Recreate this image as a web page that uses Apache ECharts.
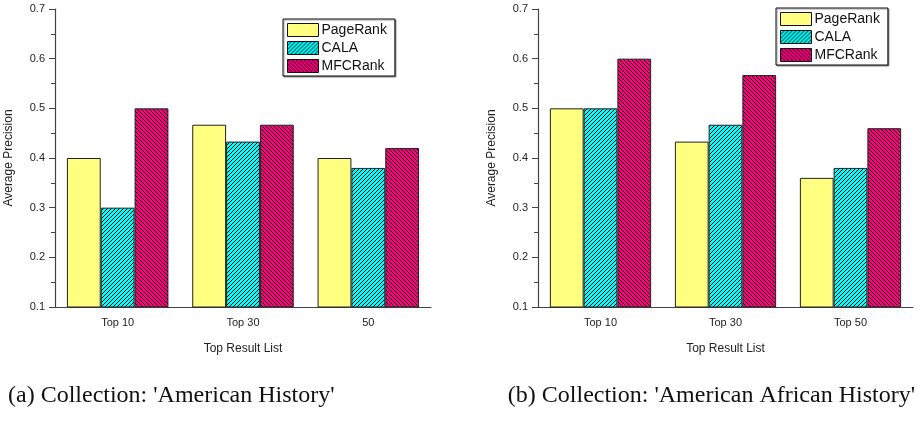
<!DOCTYPE html>
<html lang="en">
<head>
  <meta charset="UTF-8">
  <title>Average Precision</title>
  <style>
    body{
      margin: 0;
      width: 923px;
      height: 422px;
      overflow: hidden;
      background-color: #fff;
    }
    #chart{
      width: 923px;
      height: 422px;
    }
  </style>
</head>
<body>
  <div id="chart"></div>
  <script src="https://cdn.jsdelivr.net/npm/echarts@6/dist/echarts.min.js"></script>
  <script>
// 数据
const seriesNames = ['PageRank', 'CALA', 'MFCRank'];
const catsA = ['Top 10', 'Top 30', '50'];
const catsB = ['Top 10', 'Top 30', 'Top 50'];
const pageRankA = [0.4, 0.467, 0.4];
const calaA = [0.3, 0.433, 0.38];
const mfcRankA = [0.5, 0.467, 0.42];
const pageRankB = [0.5, 0.433, 0.36];
const calaB = [0.5, 0.467, 0.38];
const mfcRankB = [0.6, 0.567, 0.46];
const yTicks = [0.1, 0.2, 0.3, 0.4, 0.5, 0.6, 0.7];

// 斜线填充（像素阶梯）
function hatch(bg, dir) {
  const s = 4;
  const c = document.createElement('canvas');
  c.width = s; c.height = s;
  const ctx = c.getContext('2d');
  ctx.fillStyle = bg;
  ctx.fillRect(0, 0, s, s);
  if (dir) {
    ctx.fillStyle = '#000';
    for (let i = 0; i < s; i++) {
      ctx.fillRect(i, dir > 0 ? s - 1 - i : i, 1, 1);
    }
  }
  return { image: c, repeat: 'repeat' };
}

const fills = [hatch('#ffff80', 0), hatch('#00ffff', 1), hatch('#ff0080', -1)];
const font = 'Liberation Sans, Arial, sans-serif';

function xAxes(cats, gi) {
  return [{
    type: 'category', gridIndex: gi, data: cats,
    name: 'Top Result List', nameLocation: 'middle', nameGap: 36,
    nameTextStyle: { fontFamily: font, fontSize: 12, color: '#222' },
    axisLine: { lineStyle: { color: '#444', width: 1.2 } },
    axisTick: { alignWithLabel: true, length: 5, lineStyle: { color: '#444' } },
    axisLabel: { fontFamily: font, fontSize: 11, color: '#222', margin: 10 }
  }, {
    type: 'category', gridIndex: gi, data: cats, position: 'bottom',
    axisLine: { show: false }, axisLabel: { show: false },
    axisTick: { length: 3, lineStyle: { color: '#444' } }
  }];
}

function yAxis(gi) {
  return {
    type: 'value', gridIndex: gi, min: yTicks[0], max: yTicks[yTicks.length - 1], interval: 0.1,
    name: 'Average Precision', nameLocation: 'middle', nameGap: 40,
    nameTextStyle: { fontFamily: font, fontSize: 12, color: '#222' },
    splitLine: { show: false },
    axisLine: { show: true, lineStyle: { color: '#444', width: 1.2 } },
    axisTick: { show: true, length: 6, lineStyle: { color: '#444' } },
    minorTick: { show: true, splitNumber: 2, length: 4, lineStyle: { color: '#444' } },
    axisLabel: { fontFamily: font, fontSize: 11, color: '#222', margin: 10,
      formatter: v => v.toFixed(1) }
  };
}

function bars(data, gi) {
  return data.map((d, i) => ({
    type: 'bar', name: seriesNames[i], xAxisIndex: gi * 2, yAxisIndex: gi, data: d,
    barGap: '0%', barCategoryGap: '19%',
    itemStyle: { color: fills[i], borderColor: '#222', borderWidth: 1 }
  }));
}

function legend(left, top) {
  return {
    left: left, top: top, orient: 'vertical', data: seriesNames,
    icon: 'rect', itemWidth: 31, itemHeight: 13, itemGap: 4,
    padding: [4, 8, 3, 4],
    borderColor: '#111', borderWidth: 1, backgroundColor: '#fff',
    shadowColor: 'rgba(0,0,0,0.4)', shadowOffsetX: 1, shadowOffsetY: 1, shadowBlur: 1,
    itemStyle: { borderColor: '#111', borderWidth: 1 },
    textStyle: { fontFamily: font, fontSize: 14, color: '#111', padding: [0, 0, 0, -2] }
  };
}

const chart = echarts.init(document.getElementById('chart'));
chart.setOption({
  animation: false,
  grid: [
    { left: 55, top: 9, width: 376, height: 298 },
    { left: 538, top: 9, width: 375, height: 298 }
  ],
  xAxis: xAxes(catsA, 0).concat(xAxes(catsB, 1)),
  yAxis: [yAxis(0), yAxis(1)],
  legend: [legend(283, 19), legend(776, 8)],
  series: bars([pageRankA, calaA, mfcRankA], 0).concat(bars([pageRankB, calaB, mfcRankB], 1)),
  graphic: [
    { type: 'text', left: 8, top: 384,
      style: { text: "(a) Collection: 'American History'", font: '24px "Liberation Serif", serif', fill: '#111' } },
    { type: 'text', right: 8, top: 384,
      style: { text: "(b) Collection: 'American African History'", font: '24px "Liberation Serif", serif', fill: '#111' } }
  ]
});
  </script>
</body>
</html>
